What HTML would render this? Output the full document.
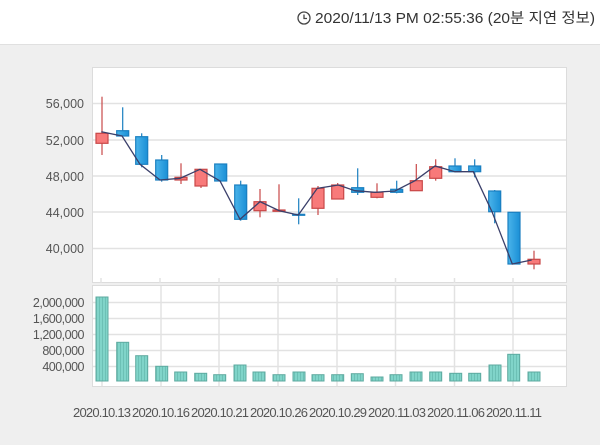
<!DOCTYPE html>
<html><head><meta charset="utf-8"><style>
body{margin:0;width:600px;height:445px;overflow:hidden;background:#efefef;font-family:"Liberation Sans","Noto Sans CJK KR",sans-serif}
.hdr{position:absolute;left:0;top:0;width:600px;height:44px;background:#fff;border-bottom:1px solid #e0e0e0}
</style></head><body>
<div class="hdr"></div>
<svg width="600" height="445" style="position:absolute;left:0;top:0" font-family="Liberation Sans, Noto Sans CJK KR, sans-serif">
<defs>
<pattern id="st" width="3" height="10" patternUnits="userSpaceOnUse"><rect width="3" height="10" fill="#80d4c9"/><rect width="1" height="10" fill="#6cc0b5"/></pattern>
<linearGradient id="bl" x1="0" x2="1"><stop offset="0" stop-color="#4ab4ea"/><stop offset="1" stop-color="#1a8fd6"/></linearGradient>
</defs>
<circle cx="304" cy="18" r="6" fill="none" stroke="#444" stroke-width="1.3"/>
<path d="M304 14.5V18.5H307" fill="none" stroke="#444" stroke-width="1.3"/>
<text x="315" y="23" font-size="14.5" fill="#333" textLength="280" lengthAdjust="spacingAndGlyphs">2020/11/13 PM 02:55:36 (20분 지연 정보)</text>
<rect x="92.5" y="67.5" width="474" height="215" fill="#fff" stroke="#dcdcdc"/>
<rect x="92.5" y="285.5" width="474" height="101" fill="#fff" stroke="#dcdcdc"/>
<g stroke="#e2e2e2" stroke-width="1.5">
<line x1="93" x2="566" y1="103.5" y2="103.5"/><line x1="93" x2="566" y1="140" y2="140"/><line x1="93" x2="566" y1="176" y2="176"/><line x1="93" x2="566" y1="212" y2="212"/><line x1="93" x2="566" y1="248.5" y2="248.5"/>
<line x1="93" x2="566" y1="302.5" y2="302.5"/><line x1="93" x2="566" y1="318.5" y2="318.5"/><line x1="93" x2="566" y1="334.5" y2="334.5"/><line x1="93" x2="566" y1="350.5" y2="350.5"/><line x1="93" x2="566" y1="366.5" y2="366.5"/>
<line x1="161" x2="161" y1="286" y2="386"/><line x1="219" x2="219" y1="286" y2="386"/><line x1="278" x2="278" y1="286" y2="386"/><line x1="337" x2="337" y1="286" y2="386"/><line x1="395.5" x2="395.5" y1="286" y2="386"/><line x1="454.5" x2="454.5" y1="286" y2="386"/><line x1="513" x2="513" y1="286" y2="386"/>
<line x1="102" x2="102" y1="378" y2="386"/>
<line x1="101" x2="101" y1="278" y2="283"/><line x1="160" x2="160" y1="278" y2="283"/><line x1="219" x2="219" y1="278" y2="283"/><line x1="278" x2="278" y1="278" y2="283"/><line x1="337" x2="337" y1="278" y2="283"/><line x1="395.5" x2="395.5" y1="278" y2="283"/><line x1="454.5" x2="454.5" y1="278" y2="283"/><line x1="513" x2="513" y1="278" y2="283"/>
</g>
<g font-size="12.5" fill="#555" text-anchor="end">
<text x="84" y="108">56,000</text><text x="84" y="145">52,000</text><text x="84" y="181">48,000</text><text x="84" y="217">44,000</text><text x="84" y="253">40,000</text>
<text x="84" y="307" letter-spacing="-0.5">2,000,000</text><text x="84" y="323" letter-spacing="-0.5">1,600,000</text><text x="84" y="339" letter-spacing="-0.5">1,200,000</text><text x="84" y="355" letter-spacing="-0.5">800,000</text><text x="84" y="371" letter-spacing="-0.5">400,000</text>
</g>
<g font-size="13" fill="#555" lengthAdjust="spacingAndGlyphs">
<text x="73" y="417" textLength="58">2020.10.13</text><text x="132" y="417" textLength="58">2020.10.16</text><text x="191" y="417" textLength="58">2020.10.21</text><text x="250" y="417" textLength="58">2020.10.26</text><text x="309" y="417" textLength="58">2020.10.29</text><text x="368" y="417" textLength="58">2020.11.03</text><text x="427" y="417" textLength="58">2020.11.06</text><text x="486" y="417" textLength="56">2020.11.11</text>
</g>
<g fill="url(#st)" stroke="#5eaaa0" stroke-width="1">
<rect x="96" y="297" width="12" height="84"/><rect x="116.7" y="342.3" width="12" height="38.7"/><rect x="135.7" y="355.7" width="12" height="25.3"/><rect x="155.7" y="366.3" width="12" height="14.7"/><rect x="174.7" y="372" width="12" height="9"/><rect x="194.7" y="373.3" width="12" height="7.7"/><rect x="213.7" y="374.7" width="12" height="6.3"/><rect x="234" y="365" width="12" height="16"/><rect x="253" y="372" width="12" height="9"/><rect x="273" y="374.7" width="12" height="6.3"/><rect x="293" y="372" width="12" height="9"/><rect x="312" y="374.7" width="12" height="6.3"/><rect x="331.7" y="374.7" width="12" height="6.3"/><rect x="351.3" y="373.7" width="12" height="7.3"/><rect x="371" y="377" width="12" height="4"/><rect x="390" y="374.7" width="12" height="6.3"/><rect x="410" y="372" width="12" height="9"/><rect x="429.7" y="372" width="12" height="9"/><rect x="449.7" y="373.3" width="12" height="7.7"/><rect x="468.7" y="373.3" width="12" height="7.7"/><rect x="489" y="365" width="12" height="16"/><rect x="507.7" y="354.3" width="12" height="26.7"/><rect x="528" y="372" width="12" height="9"/>
</g>
<g stroke-width="1.2">
<g stroke="#c84848" fill="#f87a7a">
<line x1="102" x2="102" y1="96.7" y2="155"/><rect x="96" y="133.3" width="12" height="10"/>
<line x1="181" x2="181" y1="163.3" y2="184"/><rect x="175" y="177.3" width="12" height="2.7"/>
<line x1="201" x2="201" y1="169" y2="188"/><rect x="195" y="169.3" width="12" height="16.7"/>
<line x1="260" x2="260" y1="189" y2="217.3"/><rect x="254" y="201.7" width="12" height="9"/>
<line x1="279" x2="279" y1="184.3" y2="211.3"/><rect x="273" y="210" width="12" height="1.3"/>
<line x1="318" x2="318" y1="186" y2="215"/><rect x="312" y="188.3" width="12" height="20"/>
<line x1="337.7" x2="337.7" y1="183" y2="199"/><rect x="331.7" y="185" width="12" height="14"/>
<line x1="377" x2="377" y1="183.3" y2="198.3"/><rect x="371" y="192.3" width="12" height="5"/>
<line x1="416.3" x2="416.3" y1="164" y2="190.7"/><rect x="410.3" y="180.7" width="12" height="10"/>
<line x1="435.7" x2="435.7" y1="159.3" y2="180.7"/><rect x="429.7" y="166.7" width="12" height="11.6"/>
<line x1="534" x2="534" y1="250.7" y2="269.3"/><rect x="528" y="259.3" width="12" height="4.7"/>
</g>
<g stroke="#1a7fc0" fill="url(#bl)">
<line x1="122.7" x2="122.7" y1="107.3" y2="136"/><rect x="116.7" y="130.7" width="12" height="5.3"/>
<line x1="141.7" x2="141.7" y1="133.3" y2="167.3"/><rect x="135.7" y="136.7" width="12" height="27.6"/>
<line x1="161.7" x2="161.7" y1="155" y2="181.7"/><rect x="155.7" y="160" width="12" height="20"/>
<line x1="220.7" x2="220.7" y1="164" y2="181"/><rect x="214.7" y="164" width="12" height="17"/>
<line x1="240.7" x2="240.7" y1="180.7" y2="220.7"/><rect x="234.7" y="185" width="12" height="34.3"/>
<line x1="298.7" x2="298.7" y1="198.3" y2="224.3"/><rect x="292.7" y="214.3" width="12" height="1"/>
<line x1="357.7" x2="357.7" y1="168.3" y2="195"/><rect x="351.7" y="187.7" width="12" height="4.6"/>
<line x1="396.7" x2="396.7" y1="180.7" y2="193.3"/><rect x="390.7" y="189.3" width="12" height="3"/>
<line x1="455" x2="455" y1="158.3" y2="172.3"/><rect x="449" y="166" width="12" height="5.7"/>
<line x1="474.7" x2="474.7" y1="159.3" y2="177.3"/><rect x="468.7" y="166" width="12" height="5.7"/>
<line x1="494.7" x2="494.7" y1="190" y2="223.3"/><rect x="488.7" y="191" width="12" height="20.7"/>
<line x1="514" x2="514" y1="212.3" y2="264"/><rect x="508" y="212.3" width="12" height="51.7"/>
</g>
</g>
<polyline fill="none" stroke="#3a3f6a" stroke-width="1.3" points="101.3,131.7 122,136 140,164.3 160,180 180,178.3 200,169.3 220,181 240,219.3 260,201.7 279.3,210.7 298.3,215 317.3,188.3 338.3,185 355,190.7 375,192.3 395,191 415,180.7 435,166 455,171.7 473.3,171.7 492,211.7 512.3,264 531.7,260"/>
</svg>
</body></html>
